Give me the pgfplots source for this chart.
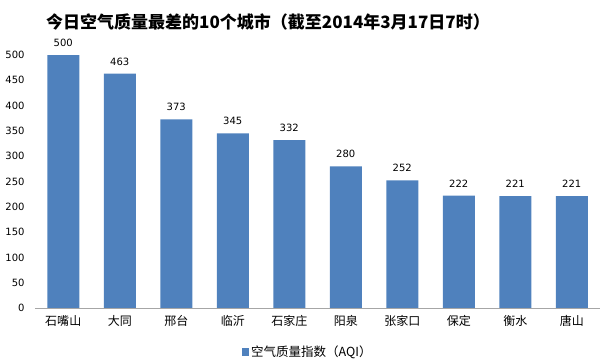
\documentclass[border=0pt]{standalone}
\usepackage{fontspec}
\setmainfont{Noto Sans CJK SC}
\newfontfamily\numfont{DejaVu Sans}
\usepackage{pgfplots}
\pgfplotsset{compat=1.18}
\definecolor{barblue}{HTML}{4F81BD}
\begin{document}
\begin{tikzpicture}
\path[use as bounding box] (0,0) rectangle (600bp,360bp);
\begin{axis}[
  at={(35bp,52bp)}, anchor=south west,
  scale only axis, width=565bp, height=253bp,
  xmin=-0.5, xmax=9.5, ymin=0, ymax=500,
  ytick={0,50,...,500},
  xtick={0,...,9},
  xticklabels={石嘴山,大同,邢台,临沂,石家庄,阳泉,张家口,保定,衡水,唐山},
  major tick length=0pt,
  axis x line*=bottom, axis y line*=left,
  x axis line style={draw=gray!70, -},
  y axis line style={draw=none},
  /pgf/number format/assume math mode=true,
  yticklabel style={font=\numfont\fontsize{10bp}{12bp}\selectfont, xshift=-7bp},
  xticklabel style={font=\fontsize{12bp}{14bp}\selectfont, yshift=-4bp},
  ybar, bar width=32bp,
  nodes near coords,
  nodes near coords style={font=\numfont\fontsize{10bp}{12bp}\selectfont, yshift=5bp},
  legend style={at={(0.483,-0.174)}, anchor=center, draw=none, font=\fontsize{12.5bp}{14bp}\selectfont, inner sep=0pt},
  legend image code/.code={\fill[barblue] (0bp,-4bp) rectangle (7bp,4bp);},
]
\addplot[fill=barblue, draw=none] coordinates {(0,500) (1,463) (2,373) (3,345) (4,332) (5,280) (6,252) (7,222) (8,221) (9,221)};
\addlegendentry{空气质量指数（AQI）}
\end{axis}
\node[font=\bfseries\fontsize{17bp}{20bp}\selectfont] at (268bp,338bp) {今日空气质量最差的10个城市（截至2014年3月17日7时）};
\end{tikzpicture}
\end{document}
